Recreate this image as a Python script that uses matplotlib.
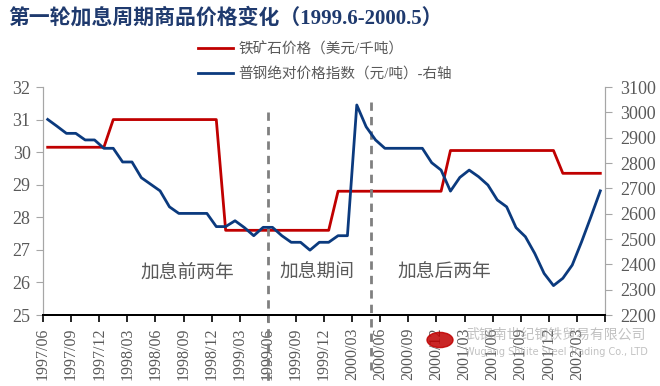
import matplotlib
matplotlib.use("Agg")
import matplotlib.pyplot as plt
from matplotlib.patches import Circle

# serif for latin glyphs (ticks), CJK fallback for the chinese text
plt.rcParams['font.family'] = ['Liberation Serif', 'Noto Sans CJK SC', 'DejaVu Sans']

# monthly categories 1997/06 .. 2002/05
months = []
y, m = 1997, 6
for _ in range(60):
    months.append(f"{y}/{m:02d}")
    m += 1
    if m > 12:
        m = 1
        y += 1

# iron ore price (left axis)
ore = [30.15] * 7 + [31.0] * 12 + [27.6] * 12 + [28.8] * 12 + [30.05] * 12 + [29.35] * 5

# steel price index (right axis)
steel = [2972, 2945, 2917, 2917, 2891, 2891, 2858, 2858, 2804, 2804,
         2742, 2716, 2690, 2627, 2601, 2601, 2601, 2601, 2549, 2549,
         2572, 2545, 2513, 2546, 2546, 2513, 2487, 2487, 2456, 2487,
         2487, 2513, 2513, 3029, 2943, 2891, 2858, 2858, 2858, 2858,
         2858, 2801, 2772, 2689, 2743, 2772, 2746, 2713, 2654, 2627,
         2545, 2509, 2443, 2364, 2316, 2345, 2397, 2489, 2588, 2690]

periods = ['加息前两年', '加息期间', '加息后两年']
period_x = [14.9, 28.8, 42.3]
hike_bounds = [23.5, 34.5]

red = '#C00000'
blue = '#0B3A7E'
grey_txt = '#595959'

fig = plt.figure(figsize=(6.6, 3.86), dpi=100)
ax = fig.add_axes([43 / 660, 1 - 315 / 386, (605 - 43) / 660, (315 - 87) / 386])
ax2 = ax.twinx()

x = list(range(len(months)))
l1, = ax.plot(x, ore, color=red, lw=2.0, label='铁矿石价格（美元/千吨）', zorder=3)
l2, = ax2.plot(x, steel, color=blue, lw=2.0, label='普钢绝对价格指数（元/吨）-右轴', zorder=3)

ax.set_xlim(-0.5, 59.5)
ax.set_ylim(25, 32)
ax2.set_ylim(2200, 3100)
ax.set_yticks(range(25, 33))
ax2.set_yticks(range(2200, 3101, 100))

ax.set_xticks([i - 0.5 for i in range(0, 61, 3)])
ax.set_xticklabels([months[i] for i in range(0, 60, 3)] + [''], rotation=90)

ax.tick_params(axis='y', colors='#A6A6A6', labelcolor=grey_txt, labelsize=13, length=5, pad=4)
ax2.tick_params(axis='y', colors='#A6A6A6', labelcolor=grey_txt, labelsize=13, length=5, pad=6)
ax.tick_params(axis='x', colors='black', labelcolor=grey_txt, labelsize=11.5,
               length=5, width=1.2, pad=4)

for a in (ax, ax2):
    a.spines['top'].set_visible(False)
    a.spines['left'].set_color('#A6A6A6')
    a.spines['right'].set_color('#A6A6A6')
    a.spines['bottom'].set_color('black')
    a.spines['bottom'].set_linewidth(1.4)

# dashed boundaries of the rate hike period
ax.plot([hike_bounds[0]] * 2, [31.23, 22.85], color='#808080', lw=2.0,
        dashes=(3, 2.2), clip_on=False, zorder=4)
ax.plot([hike_bounds[1]] * 2, [31.54, 23.3], color='#808080', lw=2.0,
        dashes=(3, 2.2), clip_on=False, zorder=4)

for t, px in zip(periods, period_x):
    ax.text(px, 26.3, t, ha='center', va='center', fontsize=13.5, color=grey_txt)

fig.text(0.012, 0.952, '第一轮加息周期商品价格变化（1999.6-2000.5）', fontsize=15,
         fontweight='bold', color='#1F3A6E', va='center', ha='left')

fig.legend(handles=[l1, l2], loc='upper left', bbox_to_anchor=(198 / 660, 1 - 42 / 386),
           frameon=False, fontsize=10.5, labelcolor=grey_txt, handlelength=2.4,
           handletextpad=0.35, labelspacing=0.75, borderpad=0, borderaxespad=0)

# faint watermark
fig.patches.append(Circle((440 / 660, 1 - 340 / 386), 13 / 660, transform=fig.transFigure,
                          color=red, alpha=0.85, zorder=5))
fig.text(465 / 660, 1 - 335 / 386, '武钢南世纪钢铁贸易有限公司', fontsize=10,
         family=['Noto Sans CJK SC'], color='#999999', alpha=0.6, va='center', zorder=5)
fig.text(465 / 660, 1 - 352 / 386, 'Wugang Shijite Steel Trading Co., LTD', fontsize=7,
         family=['DejaVu Sans'], color='#999999', alpha=0.6, va='center', zorder=5)

fig.savefig('out.png', dpi=100)
